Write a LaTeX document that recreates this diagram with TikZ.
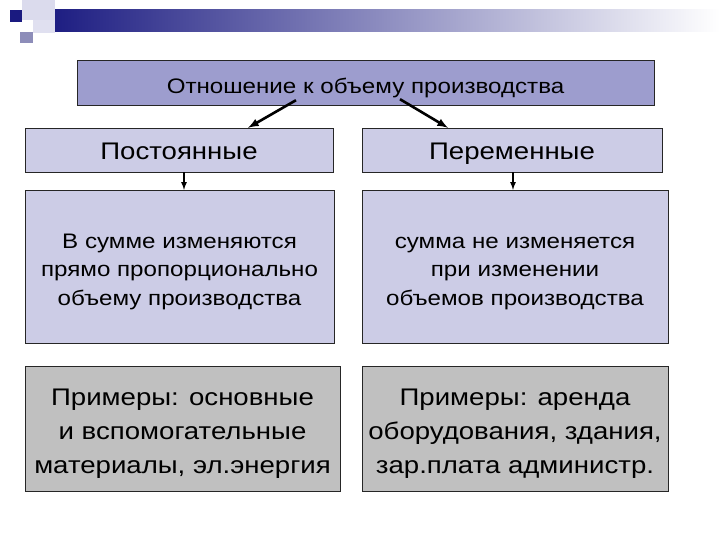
\documentclass[tikz,border=0pt]{standalone}
\usepackage{fontspec}
\setmainfont{Liberation Sans}[FakeStretch=1.15]
\definecolor{headblue}{RGB}{26,26,128}
\definecolor{topfill}{RGB}{157,157,206}
\definecolor{lightfill}{RGB}{204,204,230}
\definecolor{grayfill}{RGB}{192,192,192}
\tikzset{
  headbox/.style={draw=black!85, fill=topfill, minimum width=577pt, minimum height=45pt, inner sep=0pt,
    text height=24pt, text depth=1pt, font=\fontsize{21}{25}\selectfont},
  kindbox/.style={draw=black!85, fill=lightfill, minimum height=44pt, inner sep=0pt,
    text height=22pt, text depth=2pt, font=\fontsize{24}{28}\selectfont},
  notebox/.style={draw=black!85, fill=lightfill, minimum height=153pt, inner sep=0pt, align=center,
    text height=81.5pt, text depth=4.5pt, font=\fontsize{21}{28.5}\selectfont},
  samplebox/.style={draw=black!85, fill=grayfill, minimum height=125pt, inner sep=0pt, align=center,
    text height=95.5pt, text depth=5pt, font=\fontsize{24}{34}\selectfont},
  bigarrow/.style={line width=2.6pt, -latex},
  smallarrow/.style={line width=1.6pt, -latex},
}
\begin{document}
\begin{tikzpicture}[x=1pt,y=-1pt]
      \useasboundingbox (0,0) rectangle (720,540);
      % Slide Decoration
      \fill[white] (0,0) rectangle (720,540);
      \shade[left color=headblue, right color=white] (42,10) rectangle (720,32);
      \fill[lightfill!70] (22,0) rectangle (55,20);
      \fill[lightfill!60] (33,20) rectangle (55,33);
      \fill[headblue] (10,10) rectangle (22,22);
      \fill[topfill!90!black] (20,32) rectangle (33,43);
      % Header
      \node[headbox] (head) at (365.5,82.5) {Отношение к объему производства};
      % Kinds of Costs
      \node[kindbox, minimum width=308pt] (const) at (179,150) {Постоянные};
      \node[kindbox, minimum width=300pt] (var) at (512,150) {Переменные};
      % Descriptions
      \node[notebox, minimum width=309pt] (constnote) at (179.5,266.5)
        {В сумме изменяются\\прямо пропорционально\\объему производства};
      \node[notebox, minimum width=306pt] (varnote) at (515,266.5)
        {сумма не изменяется\\при изменении\\объемов производства};
      % Examples
      \node[samplebox, minimum width=315pt] (constex) at (182.5,428.5)
        {Примеры: основные\\и вспомогательные\\материалы, эл.энергия};
      \node[samplebox, minimum width=306pt] (varex) at (515,428.5)
        {Примеры: аренда\\оборудования, здания,\\зар.плата администр.};
      % Arrows from the Header
      \draw[bigarrow] ([xshift=-69.5pt,yshift=5pt]head.south) -- ([xshift=69pt]const.north);
      \draw[bigarrow] ([xshift=34.5pt,yshift=6pt]head.south) -- ([xshift=-64pt]var.north);
      % Arrows to the Descriptions
      \draw[smallarrow] ([xshift=5pt]const.south) -- ([xshift=4.5pt]constnote.north);
      \draw[smallarrow] ([xshift=1pt]var.south) -- ([xshift=-2pt]varnote.north);
\end{tikzpicture}
\end{document}
